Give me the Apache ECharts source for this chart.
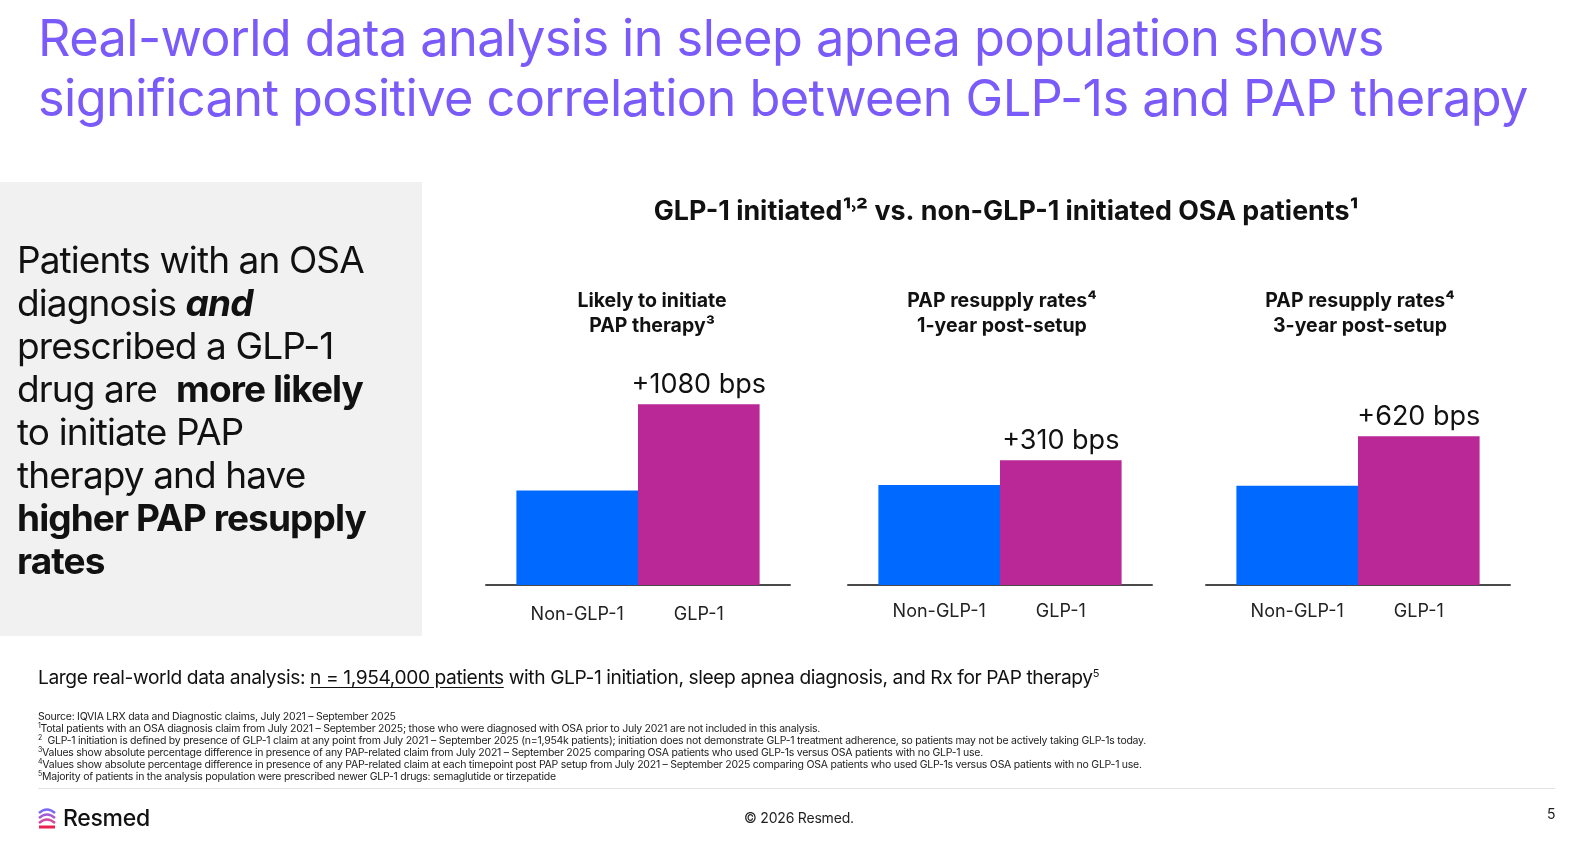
<!DOCTYPE html>
<html>
<head>
<meta charset="utf-8">
<script src="https://cdn.jsdelivr.net/npm/echarts@6/dist/echarts.min.js"></script>
<style>
  html, body { margin: 0; padding: 0; background: #fff; }
  body { width: 1583px; height: 864px; position: relative; overflow: hidden; font-family: Inter, "Noto Sans", sans-serif; color: #111; }
  .panel { position: absolute; left: 0; top: 182px; width: 422px; height: 454px; background: #f1f1f1; }
  #chart { position: absolute; left: 0; top: 0; width: 1583px; height: 864px; }
  .txt { position: absolute; pointer-events: none; }
  .title { left: 38px; top: 8px; font-size: 50.5px; line-height: 60px; color: #7a5af8; letter-spacing: -0.6px; white-space: nowrap; }
  .lead { left: 17px; top: 238px; font-size: 37px; line-height: 43px; letter-spacing: -0.9px; color: #111; white-space: nowrap; }
  .lead b { font-weight: 700; }
  .note { left: 38px; top: 665px; font-size: 19.2px; color: #111; letter-spacing: -0.4px; white-space: nowrap; }
  .note u { text-underline-offset: 3px; }
  .note sup { font-size: 11px; line-height: 0; }
  .foot { left: 38px; top: 711px; font-size: 10.5px; line-height: 12px; color: #222; letter-spacing: -0.25px; white-space: nowrap; }
  .foot sup { font-size: 7px; line-height: 0; vertical-align: 4px; }
  .sep { position: absolute; left: 38px; top: 788px; width: 1517px; height: 1px; background: #e3e3e3; }
  .logo { left: 37px; top: 804px; display: flex; align-items: center; gap: 6px; font-size: 23px; font-weight: 500; letter-spacing: -0.3px; }
  .copy { left: 744px; top: 809px; font-size: 14px; color: #222; letter-spacing: -0.2px; }
  .page { left: 1547px; top: 805px; font-size: 14px; color: #222; }
</style>
</head>
<body>
<div class="panel"></div>
<div id="chart"></div>

<div class="txt title">Real-world data analysis in sleep apnea population shows<br>significant positive correlation between GLP-1s and PAP therapy</div>

<div class="txt lead">Patients with an OSA<br>diagnosis <b><i>and</i></b><br>prescribed a GLP-1<br>drug are&nbsp; <b>more likely</b><br>to initiate PAP<br>therapy and have<br><b>higher PAP resupply</b><br><b>rates</b></div>

<div class="txt note">Large real-world data analysis: <u>n = 1,954,000 patients</u> with GLP-1 initiation, sleep apnea diagnosis, and Rx for PAP therapy<sup>5</sup></div>

<div class="txt foot">
Source: IQVIA LRX data and Diagnostic claims, July 2021 – September 2025<br>
<sup>1</sup>Total patients with an OSA diagnosis claim from July 2021 – September 2025; those who were diagnosed with OSA prior to July 2021 are not included in this analysis.<br>
<sup>2</sup>&nbsp; GLP-1 initiation is defined by presence of GLP-1 claim at any point from July 2021 – September 2025 (n=1,954k patients); initiation does not demonstrate GLP-1 treatment adherence, so patients may not be actively taking GLP-1s today.<br>
<sup>3</sup>Values show absolute percentage difference in presence of any PAP-related claim from July 2021 – September 2025 comparing OSA patients who used GLP-1s versus OSA patients with no GLP-1 use.<br>
<sup>4</sup>Values show absolute percentage difference in presence of any PAP-related claim at each timepoint post PAP setup from July 2021 – September 2025 comparing OSA patients who used GLP-1s versus OSA patients with no GLP-1 use.<br>
<sup>5</sup>Majority of patients in the analysis population were prescribed newer GLP-1 drugs: semaglutide or tirzepatide
</div>

<div class="sep"></div>
<div class="txt logo">
  <svg width="20" height="24" viewBox="0 0 20 24">
    <path d="M2 7 Q10 0 18 7" stroke="#7a6cf2" stroke-width="2.4" fill="none"/>
    <path d="M2 12 Q10 5 18 12" stroke="#a55ad6" stroke-width="2.4" fill="none"/>
    <path d="M2 17 Q10 10 18 17" stroke="#d24a9e" stroke-width="2.4" fill="none"/>
    <rect x="2" y="19.5" width="16" height="3" fill="#e8224c"/>
  </svg>
  <span>Resmed</span>
</div>
<div class="txt copy">© 2026 Resmed.</div>
<div class="txt page">5</div>

<script>
const groupTitles = ['Likely to initiate\nPAP therapy³', 'PAP resupply rates⁴\n1-year post-setup', 'PAP resupply rates⁴\n3-year post-setup'];
const categories = ['Non-GLP-1', 'GLP-1'];
const nonGlpRates = [11.8, 12.5, 12.4];
const glpRates = [22.6, 15.6, 18.6];
const diffLabels = ['+1080 bps', '+310 bps', '+620 bps'];
const heading = 'GLP-1 initiated¹˒² vs. non-GLP-1 initiated OSA patients¹';

const BLUE = '#0069ff';
const MAGENTA = '#b92896';
const gridLefts = [486, 848, 1206];
const gridW = 304;
const span = 2.5;            // x-axis units per grid
const barW = gridW / span;   // one unit per bar, bars touch

const chart = echarts.init(document.getElementById('chart'), null, { renderer: 'canvas' });

const grids = [], xAxes = [], yAxes = [], series = [], graphics = [];

groupTitles.forEach((t, i) => {
  grids.push({ left: gridLefts[i], top: 385, width: gridW, height: 200 });
  xAxes.push({
    type: 'value', gridIndex: i, min: 0, max: span,
    splitLine: { show: false },
    axisTick: { show: false },
    axisLine: { show: true, onZero: false, lineStyle: { color: '#4a4a4a', width: 2 } },
    axisLabel: {
      customValues: [0.75, 1.75],
      formatter: v => categories[Math.round(v - 0.75)] || '',
      fontSize: 18, color: '#222', margin: i === 0 ? 21 : 18, fontFamily: 'Inter'
    }
  });
  yAxes.push({ type: 'value', gridIndex: i, min: 0, max: 25, show: false });
  series.push({
    type: 'bar', xAxisIndex: i, yAxisIndex: i, barWidth: barW,
    z: 1,
    data: [
      { value: [0.75, nonGlpRates[i]], itemStyle: { color: BLUE } },
      { value: [1.75, glpRates[i]], itemStyle: { color: MAGENTA },
        label: { show: true, position: 'top', distance: 6, formatter: diffLabels[i],
                 fontSize: 27, color: '#111', fontFamily: 'Inter' } }
    ],
    silent: true,
    animation: false
  });
  const cx = gridLefts[i] + gridW / 2;
  graphics.push({
    type: 'text', x: cx + (i === 0 ? 14 : 2), y: 289,
    style: { text: t, font: 'bold 19.5px Inter', fill: '#111', align: 'center', textAlign: 'center',
             verticalAlign: 'top', textVerticalAlign: 'top', lineHeight: 25 }
  });
});

graphics.push({
  type: 'text', x: 1006, y: 198,
  style: { text: heading, font: 'bold 26.8px Inter', fill: '#111', align: 'center', textAlign: 'center',
           verticalAlign: 'top', textVerticalAlign: 'top' }
});

chart.setOption({
  backgroundColor: 'transparent',
  animation: false,
  grid: grids,
  xAxis: xAxes,
  yAxis: yAxes,
  series: series,
  graphic: graphics
});
</script>
</body>
</html>
